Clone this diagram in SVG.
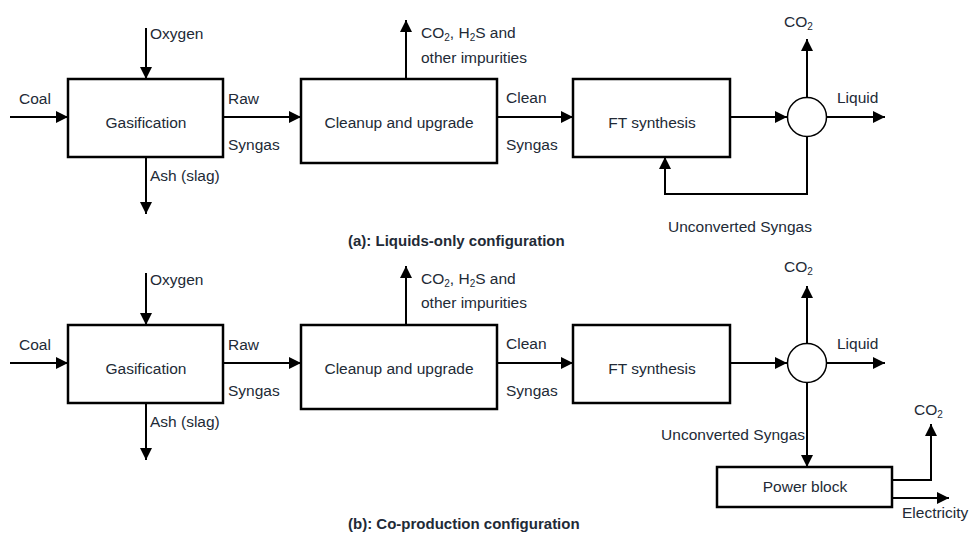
<svg xmlns="http://www.w3.org/2000/svg" width="971" height="536" viewBox="0 0 971 536">
  <defs>
    <marker id="arrow" viewBox="0 0 10 10" refX="10" refY="5" markerWidth="6" markerHeight="6" markerUnits="strokeWidth" orient="auto">
      <path d="M0,0 L10,5 L0,10 Z" fill="#000"/>
    </marker>
    <style>
      .box { fill: #fff; stroke: #000; stroke-width: 2.5; }
      .mix { fill: #fff; stroke: #000; stroke-width: 1.5; }
      .flow { fill: none; stroke: #000; stroke-width: 2; }
      .arr { marker-end: url(#arrow); }
      text { font-family: "Liberation Sans", Arial, sans-serif; font-size: 15.5px; fill: #222a36; }
      .c { text-anchor: middle; }
      .cap { font-weight: bold; font-size: 15px; }
      .sub { font-size: 10px; }
    </style>
  </defs>
  <rect width="971" height="536" fill="#fff"/>

  <!-- (a) liquids-only configuration -->
  <g id="a-connectors">
    <line class="flow arr" x1="10" y1="117" x2="68" y2="117"/>
    <line class="flow arr" x1="146" y1="28" x2="146" y2="79"/>
    <line class="flow arr" x1="146" y1="157" x2="146" y2="214"/>
    <line class="flow arr" x1="223" y1="117" x2="301" y2="117"/>
    <line class="flow arr" x1="406" y1="79" x2="406" y2="20"/>
    <line class="flow arr" x1="497" y1="117" x2="573" y2="117"/>
    <line class="flow arr" x1="730" y1="117" x2="787" y2="117"/>
    <line class="flow arr" x1="807" y1="98" x2="807" y2="39"/>
    <line class="flow arr" x1="827" y1="117" x2="885" y2="117"/>
    <polyline class="flow arr" points="807,137 807,194 665,194 665,157"/>
  </g>
  <g id="a-gasification">
    <rect class="box" x="68" y="79" width="155" height="78"/>
    <text class="c" x="146" y="128">Gasification</text>
  </g>
  <g id="a-cleanup">
    <rect class="box" x="301" y="79" width="196" height="84"/>
    <text class="c" x="399" y="128">Cleanup and upgrade</text>
  </g>
  <g id="a-ft">
    <rect class="box" x="573" y="79" width="157" height="78"/>
    <text class="c" x="652" y="128">FT synthesis</text>
  </g>
  <g id="a-separator">
    <circle class="mix" cx="807" cy="117" r="19.5"/>
  </g>
  <g id="a-labels">
    <text x="19" y="104">Coal</text>
    <text x="150" y="39">Oxygen</text>
    <text x="150" y="181">Ash (slag)</text>
    <text x="228" y="104">Raw</text>
    <text x="228" y="150">Syngas</text>
    <text x="421" y="38">CO<tspan class="sub" dy="3">2</tspan><tspan dy="-3">, H</tspan><tspan class="sub" dy="3">2</tspan><tspan dy="-3">S and</tspan></text>
    <text x="421" y="63">other impurities</text>
    <text x="506" y="103">Clean</text>
    <text x="506" y="150">Syngas</text>
    <text x="784" y="27">CO<tspan class="sub" dy="3">2</tspan></text>
    <text x="837" y="103">Liquid</text>
    <text x="668" y="232">Unconverted Syngas</text>
    <text class="cap" x="348" y="246">(a): Liquids-only configuration</text>
  </g>

  <!-- (b) co-production configuration -->
  <g id="b-connectors">
    <line class="flow arr" x1="10" y1="363" x2="68" y2="363"/>
    <line class="flow arr" x1="146" y1="273" x2="146" y2="325"/>
    <line class="flow arr" x1="146" y1="403" x2="146" y2="460"/>
    <line class="flow arr" x1="223" y1="363" x2="301" y2="363"/>
    <line class="flow arr" x1="406" y1="325" x2="406" y2="266"/>
    <line class="flow arr" x1="497" y1="363" x2="573" y2="363"/>
    <line class="flow arr" x1="730" y1="363" x2="787" y2="363"/>
    <line class="flow arr" x1="807" y1="344" x2="807" y2="286"/>
    <line class="flow arr" x1="827" y1="363" x2="885" y2="363"/>
    <line class="flow arr" x1="807" y1="383" x2="807" y2="467"/>
    <polyline class="flow arr" points="892,480 931,480 931,424"/>
    <line class="flow arr" x1="892" y1="498" x2="949" y2="498"/>
  </g>
  <g id="b-gasification">
    <rect class="box" x="68" y="325" width="155" height="78"/>
    <text class="c" x="146" y="374">Gasification</text>
  </g>
  <g id="b-cleanup">
    <rect class="box" x="301" y="325" width="196" height="84"/>
    <text class="c" x="399" y="374">Cleanup and upgrade</text>
  </g>
  <g id="b-ft">
    <rect class="box" x="573" y="325" width="157" height="78"/>
    <text class="c" x="652" y="374">FT synthesis</text>
  </g>
  <g id="b-separator">
    <circle class="mix" cx="807" cy="363" r="19.5"/>
  </g>
  <g id="b-power">
    <rect class="box" x="717" y="467" width="175" height="40"/>
    <text class="c" x="805" y="492">Power block</text>
  </g>
  <g id="b-labels">
    <text x="19" y="350">Coal</text>
    <text x="150" y="285">Oxygen</text>
    <text x="150" y="427">Ash (slag)</text>
    <text x="228" y="350">Raw</text>
    <text x="228" y="396">Syngas</text>
    <text x="421" y="284">CO<tspan class="sub" dy="3">2</tspan><tspan dy="-3">, H</tspan><tspan class="sub" dy="3">2</tspan><tspan dy="-3">S and</tspan></text>
    <text x="421" y="308">other impurities</text>
    <text x="506" y="349">Clean</text>
    <text x="506" y="396">Syngas</text>
    <text x="784" y="272">CO<tspan class="sub" dy="3">2</tspan></text>
    <text x="837" y="349">Liquid</text>
    <text x="805" y="440" style="text-anchor:end">Unconverted Syngas</text>
    <text x="914" y="415">CO<tspan class="sub" dy="3">2</tspan></text>
    <text x="902" y="518">Electricity</text>
    <text class="cap" x="348" y="529">(b): Co-production configuration</text>
  </g>
</svg>
